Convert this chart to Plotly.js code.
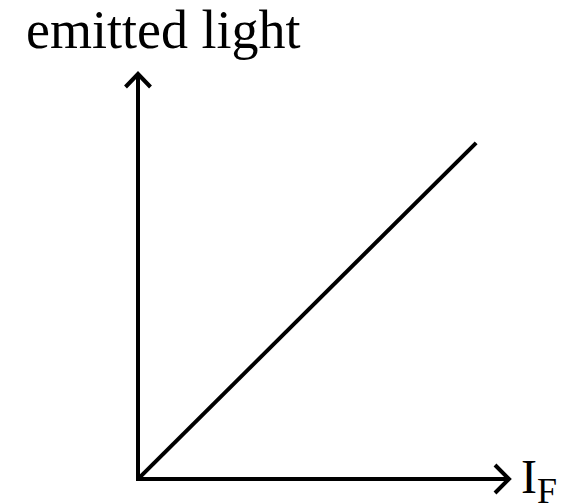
<!DOCTYPE html>
<html><head><meta charset="utf-8">
<script src="https://cdn.plot.ly/plotly-3.0.1.min.js"></script>
<style>html,body{margin:0;padding:0;background:#fff}</style>
</head><body><div id="chart" style="width:565px;height:503px"></div>
<script>
// Data: conceptual linear relation of emitted light vs forward current I_F
var currentIF = [0, 10];
var emittedLight = [0, 10];
var xLabel = 'I<sub><span style="font-size:36px">F</span></sub>';
var yLabel = 'emitted light';

var W = 565, H = 503;
var m = {l: 138, r: 55, t: 73, b: 24};
var xMax = 11.0, yMax = 12.08;
var pw = W - m.l - m.r, ph = H - m.t - m.b;
// pixel offsets (relative to plot area) -> paper coords
function px(dx) { return dx / pw; }
function py(dy) { return dy / ph; }

var axisStyle = {color: '#000', width: 4};
var traces = [
  {x: currentIF, y: emittedLight, mode: 'lines', line: {color: '#000', width: 4}, hoverinfo: 'skip', cliponaxis: false}
];

var shapes = [
  {type: 'line', xref: 'paper', yref: 'paper', x0: px(-2), y0: 0, x1: 1 - px(2), y1: 0, line: axisStyle},
  {type: 'line', xref: 'paper', yref: 'paper', x0: 0, y0: py(-2), x1: 0, y1: 1 - py(2), line: axisStyle},
  {type: 'path', xref: 'paper', yref: 'paper',
   path: 'M' + (1 - px(15)) + ',' + py(14) + ' L' + (1 - px(1)) + ',0 L' + (1 - px(15)) + ',' + py(-14),
   line: axisStyle},
  {type: 'path', xref: 'paper', yref: 'paper',
   path: 'M' + px(-12.5) + ',' + (1 - py(14)) + ' L0,' + (1 - py(1)) + ' L' + px(12.5) + ',' + (1 - py(14)),
   line: axisStyle}
];

var fontFam = '"Liberation Serif", "Times New Roman", serif';
var annotations = [
  {text: yLabel, xref: 'paper', yref: 'paper', x: px(163 - m.l), y: py(H - m.b - 30),
   xanchor: 'center', yanchor: 'middle', showarrow: false, font: {family: fontFam, size: 54, color: '#000'}},
  {text: xLabel, xref: 'paper', yref: 'paper', x: px(519 - m.l), y: py(H - m.b - 480),
   xanchor: 'left', yanchor: 'middle', showarrow: false, font: {family: fontFam, size: 48, color: '#000'}}
];

var layout = {
  width: W, height: H, margin: m,
  paper_bgcolor: '#fff', plot_bgcolor: '#fff',
  showlegend: false,
  xaxis: {range: [0, xMax], visible: false, fixedrange: true},
  yaxis: {range: [0, yMax], visible: false, fixedrange: true},
  shapes: shapes, annotations: annotations
};
Plotly.newPlot('chart', traces, layout, {staticPlot: true, displayModeBar: false});
</script></body></html>
